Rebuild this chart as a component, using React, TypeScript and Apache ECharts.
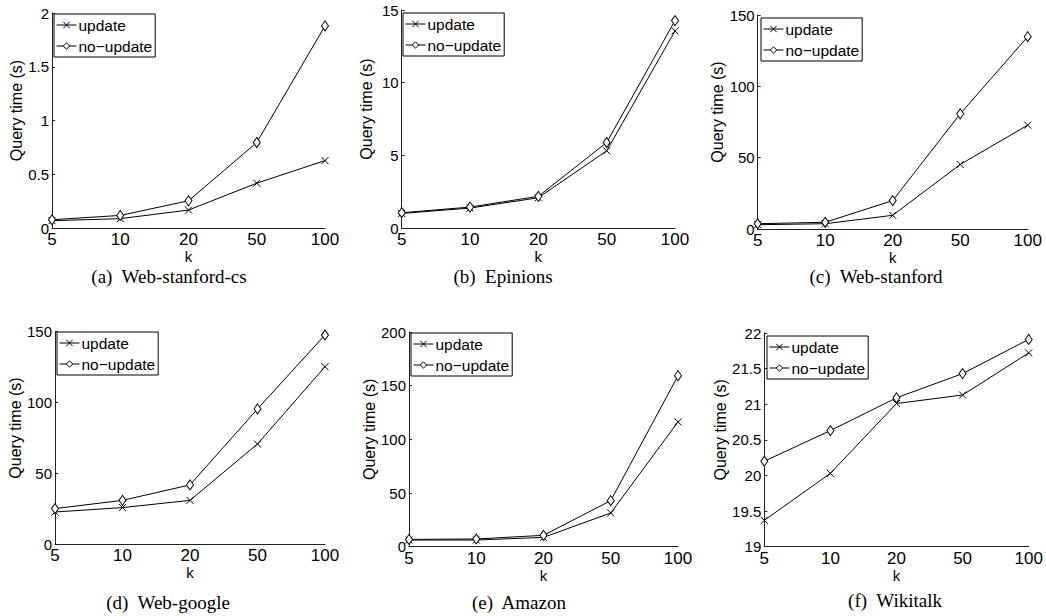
import React, { useEffect, useRef } from 'react';
import * as echarts from 'echarts';

const kValues = ['5', '10', '20', '50', '100'];
const seriesNames = ['update', 'no\u2212update'];

const webStanfordCsUpdate = [0.068, 0.087, 0.167, 0.417, 0.627];
const webStanfordCsNoUpdate = [0.077, 0.117, 0.253, 0.795, 1.88];
const epinionsUpdate = [1.0, 1.37, 2.08, 5.31, 13.56];
const epinionsNoUpdate = [1.05, 1.44, 2.18, 5.88, 14.27];
const webStanfordUpdate = [3.0, 3.7, 9.6, 45.2, 72.8];
const webStanfordNoUpdate = [3.7, 4.7, 19.9, 80.7, 134.8];
const webGoogleUpdate = [22.8, 25.9, 31.0, 70.8, 125.3];
const webGoogleNoUpdate = [25.2, 31.0, 41.9, 95.5, 147.7];
const amazonUpdate = [6.2, 6.2, 8.7, 31.4, 116.3];
const amazonNoUpdate = [6.8, 7.2, 10.6, 42.9, 159.3];
const wikitalkUpdate = [19.37, 20.03, 21.01, 21.13, 21.72];
const wikitalkNoUpdate = [20.2, 20.63, 21.09, 21.43, 21.91];

const captions = [
  '(a)  Web-stanford-cs',
  '(b)  Epinions',
  '(c)  Web-stanford',
  '(d)  Web-google',
  '(e)  Amazon',
  '(f)  Wikitalk',
];
const yMins = [0, 0, 0, 0, 0, 19];
const yMaxs = [2, 15, 150, 150, 200, 22];
const yIntervals = [0.5, 5, 50, 50, 50, 0.5];

const updateSets = [webStanfordCsUpdate, epinionsUpdate, webStanfordUpdate, webGoogleUpdate, amazonUpdate, wikitalkUpdate];
const noUpdateSets = [webStanfordCsNoUpdate, epinionsNoUpdate, webStanfordNoUpdate, webGoogleNoUpdate, amazonNoUpdate, wikitalkNoUpdate];

// layout: [left, top, right, bottom] of plot areas
const plotBoxes = [
  [52, 13, 325, 228],
  [401.7, 10, 675, 228],
  [757.7, 15, 1027.7, 229],
  [55, 331.7, 325, 544.3],
  [409, 332, 678, 546.7],
  [764.3, 333, 1028.7, 546.7],
];
const legendPos = [
  [54, 14],
  [403, 13],
  [761, 18],
  [57, 332],
  [411, 333],
  [767, 336],
];
const captionPos = [
  [169, 276],
  [503, 276],
  [876, 276],
  [168, 602],
  [519, 602],
  [895, 600],
];

const X_SYMBOL = 'path://M0,0L10,10M10,0L0,10';
const SANS = '"Liberation Sans", Arial, Helvetica, sans-serif';
const SERIF = '"Liberation Serif", "Times New Roman", serif';

export default function App() {
  const ref = useRef<HTMLDivElement>(null);
  useEffect(() => {
    if (!ref.current) return;
    const chart = echarts.init(ref.current, undefined, { renderer: 'svg' });
    const grids: any[] = [];
    const xAxes: any[] = [];
    const yAxes: any[] = [];
    const series: any[] = [];
    const legends: any[] = [];
    const graphics: any[] = [];
    for (let i = 0; i < 6; i++) {
      const [l, t, r, b] = plotBoxes[i];
      grids.push({ left: l, top: t, width: r - l, height: b - t, containLabel: false });
      xAxes.push({
        type: 'category',
        gridIndex: i,
        data: kValues,
        boundaryGap: false,
        name: 'k',
        nameLocation: 'middle',
        nameGap: 11,
        nameTextStyle: { fontFamily: SANS, fontSize: 15, color: '#000', lineHeight: 15 },
        axisLine: { lineStyle: { color: '#222', width: 1 } },
        axisTick: { show: false },
        axisLabel: { fontFamily: SANS, fontSize: 17, color: '#000', margin: 3 },
        splitLine: { show: false },
      });
      yAxes.push({
        type: 'value',
        gridIndex: i,
        min: yMins[i],
        max: yMaxs[i],
        interval: yIntervals[i],
        name: 'Query time (s)',
        nameLocation: 'middle',
        nameRotate: 90,
        nameGap: 27,
        nameTextStyle: { fontFamily: SANS, fontSize: 16, color: '#000', padding: [0, 0, 0, 20] },
        axisLine: { show: true, lineStyle: { color: '#222', width: 1 } },
        axisTick: { show: true, inside: true, length: 3, lineStyle: { color: '#222' } },
        axisLabel: { fontFamily: SANS, fontSize: 15, color: '#000', margin: 3 },
        splitLine: { show: false },
      });
      series.push({
        type: 'line',
        name: seriesNames[0],
        xAxisIndex: i,
        yAxisIndex: i,
        data: updateSets[i],
        symbol: X_SYMBOL,
        symbolSize: 7,
        showAllSymbol: true,
        lineStyle: { color: '#000', width: 1 },
        itemStyle: { color: '#fff', borderColor: '#000', borderWidth: 1 },
        emphasis: { disabled: true },
      });
      series.push({
        type: 'line',
        name: seriesNames[1],
        xAxisIndex: i,
        yAxisIndex: i,
        data: noUpdateSets[i],
        symbol: 'diamond',
        symbolSize: [7, 10],
        showAllSymbol: true,
        lineStyle: { color: '#000', width: 1 },
        itemStyle: { color: '#fff', borderColor: '#000', borderWidth: 1 },
        emphasis: { disabled: true },
      });
      legends.push({
        data: seriesNames,
        orient: 'vertical',
        left: legendPos[i][0],
        top: legendPos[i][1],
        itemWidth: 20,
        itemHeight: 8,
        itemGap: 5,
        padding: [3, 3, 3, 2],
        borderColor: '#000',
        borderWidth: 1,
        backgroundColor: '#fff',
        borderRadius: 0,
        selectedMode: false,
        itemStyle: { borderWidth: 1, borderColor: '#000', color: '#fff' },
        lineStyle: { width: 1, color: '#000' },
        textStyle: { fontFamily: SANS, fontSize: 15.5, color: '#000', padding: [0, 0, 0, -3] },
      });
      graphics.push({
        type: 'text',
        x: captionPos[i][0],
        y: captionPos[i][1],
        style: {
          text: captions[i],
          fontFamily: SERIF,
          fontSize: 19,
          fill: '#000',
          textAlign: 'center',
          textVerticalAlign: 'middle',
        },
      });
    }
    chart.setOption({
      animation: false,
      backgroundColor: '#fff',
      grid: grids,
      xAxis: xAxes,
      yAxis: yAxes,
      series,
      legend: legends,
      graphic: graphics,
    });
    return () => chart.dispose();
  }, []);
  return (
    <div
      ref={ref}
      style={{ position: 'fixed', left: 0, top: 0, width: 1046, height: 616 }}
    />
  );
}
